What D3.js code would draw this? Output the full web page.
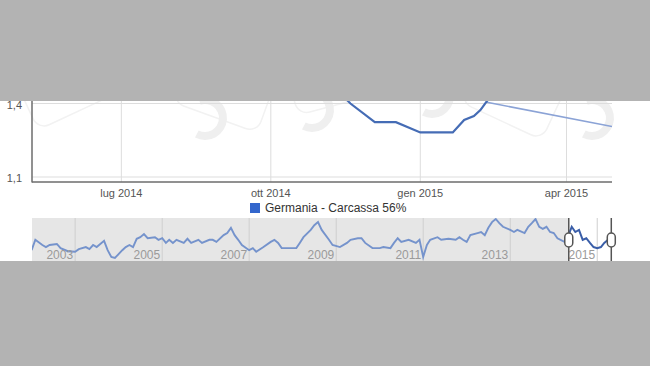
<!DOCTYPE html>
<meta charset="utf-8">

<!-- Load d3.js -->
<script src="https://d3js.org/d3.v7.min.js"></script>

<style>
  body { margin: 0; background: #b3b3b3; }
  text { font-family: Arial, "Liberation Sans", sans-serif; }
</style>

<div id="my_dataviz"></div>

<script>

// main series (visible part of the zoomed chart)
var mainDates  = ["2014-11-10","2014-11-19","2014-12-04","2014-12-17","2015-01-01","2015-01-21","2015-01-28","2015-02-03","2015-02-07","2015-02-11","2015-02-15"]
var mainValues = [1.46, 1.40, 1.324, 1.324, 1.282, 1.282, 1.333, 1.349, 1.373, 1.41, 1.45]

// lighter trend segment
var trendDates  = ["2015-02-11","2015-04-29"]
var trendValues = [1.405, 1.306]

// range navigator series
var navDates = ["2002-01","2002-02","2002-04","2002-05","2002-06","2002-08","2002-09","2002-11",
  "2003-01","2003-02","2003-04","2003-05","2003-06","2003-07","2003-09","2003-10","2003-11","2003-12",
  "2004-02","2004-03","2004-04","2004-05","2004-06","2004-07","2004-08","2004-09","2004-11","2004-12",
  "2005-01","2005-02","2005-03","2005-04","2005-05","2005-07","2005-08","2005-09","2005-11","2005-12",
  "2006-02","2006-03","2006-04","2006-06","2006-07","2006-08","2006-09","2006-10","2006-11",
  "2007-01","2007-02","2007-03","2007-05","2007-07","2007-08","2007-09","2007-10","2007-12",
  "2008-02","2008-03","2008-04","2008-06","2008-07","2008-08","2008-09","2008-11","2008-12",
  "2009-02","2009-04","2009-05","2009-07","2009-08","2009-09","2009-11",
  "2010-01","2010-02","2010-04","2010-05","2010-06","2010-07","2010-09","2010-11","2010-12",
  "2011-01","2011-02","2011-03","2011-05","2011-06","2011-08","2011-10","2011-11","2011-12",
  "2012-01","2012-02","2012-04","2012-05","2012-06","2012-07","2012-08","2012-09","2012-10","2012-11",
  "2013-01","2013-02","2013-03","2013-05","2013-06","2013-07","2013-08","2013-09","2013-10","2013-11","2013-12",
  "2014-01","2014-02","2014-04","2014-05","2014-05-15","2014-06","2014-07","2014-08","2014-09","2014-10",
  "2014-11","2014-12","2015-01","2015-02","2015-03","2015-04","2015-04-25"]
var navValues = [1.25,1.45,1.35,1.31,1.35,1.37,1.29,1.23,
  1.22,1.27,1.31,1.27,1.35,1.31,1.43,1.25,1.12,1.10,
  1.25,1.31,1.35,1.31,1.47,1.50,1.56,1.48,1.50,1.45,
  1.48,1.39,1.45,1.39,1.45,1.39,1.47,1.39,1.45,1.39,
  1.45,1.45,1.41,1.54,1.58,1.68,1.54,1.45,1.35,
  1.25,1.29,1.22,1.31,1.41,1.45,1.39,1.29,1.29,
  1.29,1.39,1.50,1.64,1.73,1.79,1.64,1.45,1.35,
  1.31,1.39,1.45,1.48,1.48,1.39,1.29,
  1.29,1.31,1.29,1.39,1.48,1.41,1.45,1.39,1.45,
  1.12,1.35,1.45,1.50,1.45,1.47,1.45,1.50,1.45,
  1.41,1.54,1.58,1.60,1.54,1.68,1.79,1.85,1.77,1.70,
  1.64,1.60,1.64,1.58,1.70,1.77,1.85,1.70,1.66,1.70,1.60,
  1.58,1.48,1.41,1.39,1.60,1.70,1.60,1.64,1.45,1.48,
  1.39,1.31,1.29,1.31,1.39,1.45,1.47]

var yTicks = [1.1, 1.4]
var navYears = [2003, 2005, 2007, 2009, 2011, 2013, 2015]
var seriesName = "Germania - Carcassa 56%"
var rangeStart = "2014-05-07", rangeEnd = "2015-04-29"

var parse = function(s){ return new Date(s.length == 7 ? s + "-01" : s) }

// italian locale for dates and numbers
var it = d3.timeFormatLocale({
  dateTime: "%A %e %B %Y, %X", date: "%d/%m/%Y", time: "%H:%M:%S",
  periods: ["AM","PM"],
  days: ["domenica","lunedì","martedì","mercoledì","giovedì","venerdì","sabato"],
  shortDays: ["dom","lun","mar","mer","gio","ven","sab"],
  months: ["gennaio","febbraio","marzo","aprile","maggio","giugno","luglio","agosto","settembre","ottobre","novembre","dicembre"],
  shortMonths: ["gen","feb","mar","apr","mag","giu","lug","ago","set","ott","nov","dic"]
})
var num = d3.formatLocale({decimal: ",", thousands: ".", grouping: [3], currency: ["€",""]})

var width = 650, height = 366

var svg = d3.select("#my_dataviz")
.append("svg")
  .attr("width", width)
  .attr("height", height)

// white strip of the screenshot
svg.append("rect")
  .attr("x", 0).attr("y", 60)
  .attr("width", width).attr("height", 220)
  .attr("fill", "#ffffff")

// faint watermark
var wm = svg.append("g")
wm.selectAll("rect")
  .data([[60,70,-25],[230,75,20],[330,60,-15],[520,80,25]])
  .enter().append("rect")
  .attr("x", -45).attr("y", -45).attr("width", 90).attr("height", 90).attr("rx", 12)
  .attr("transform", function(d){ return "translate(" + d[0] + "," + d[1] + ") rotate(" + d[2] + ")" })
  .attr("fill", "none").attr("stroke", "#f2f2f2").attr("stroke-width", 1.5)
var ring = d3.arc().innerRadius(14).outerRadius(22).startAngle(-0.1 * Math.PI).endAngle(1.15 * Math.PI)
wm.selectAll("path")
  .data([[205,118],[312,110],[432,96],[592,118]])
  .enter().append("path")
  .attr("d", ring)
  .attr("transform", function(d){ return "translate(" + d[0] + "," + d[1] + ")" })
  .attr("fill", "#efefef")

// MAIN CHART
var x = d3.scaleTime()
  .domain([parse("2014-05-07"), parse("2015-04-29")])
  .range([32, 612])
var y = d3.scaleLinear()
  .domain([1.1, 1.4])
  .range([177, 103.5])

svg.append("clipPath").attr("id", "plot")
  .append("rect").attr("x", 32).attr("y", 40).attr("width", 580).attr("height", 142)

// vertical grid + month labels
var xTicks = x.ticks(d3.timeMonth.every(3))
svg.append("g")
  .selectAll("line")
  .data(xTicks)
  .enter().append("line")
  .attr("x1", function(d){ return x(d) }).attr("x2", function(d){ return x(d) })
  .attr("y1", 40).attr("y2", 182)
  .attr("stroke", "#dddddd")
svg.append("g")
  .selectAll("text")
  .data(xTicks)
  .enter().append("text")
  .attr("x", function(d){ return x(d) })
  .attr("y", 197)
  .attr("text-anchor", "middle")
  .attr("font-size", 11)
  .attr("fill", "#555")
  .text(it.format("%b %Y"))

// horizontal grid + value labels
svg.append("g")
  .selectAll("line")
  .data(yTicks)
  .enter().append("line")
  .attr("x1", 32).attr("x2", 612)
  .attr("y1", function(d){ return y(d) }).attr("y2", function(d){ return y(d) })
  .attr("stroke", "#dddddd")
svg.append("g")
  .selectAll("text")
  .data(yTicks)
  .enter().append("text")
  .attr("x", 22)
  .attr("y", function(d){ return y(d) + 5 })
  .attr("text-anchor", "end")
  .attr("font-size", 11)
  .attr("fill", "#555")
  .text(num.format(".1f"))

// lines
var line = d3.line()
  .x(function(d){ return x(parse(d[0])) })
  .y(function(d){ return y(d[1]) })

svg.append("path")
  .datum(d3.zip(trendDates, trendValues))
  .attr("clip-path", "url(#plot)")
  .attr("d", line)
  .attr("fill", "none")
  .attr("stroke", "#8ba3d6")
  .attr("stroke-width", 1.6)

svg.append("path")
  .datum(d3.zip(mainDates, mainValues))
  .attr("clip-path", "url(#plot)")
  .attr("d", line)
  .attr("fill", "none")
  .attr("stroke", "#456cb5")
  .attr("stroke-width", 2.2)

// axes frame
svg.append("line")
  .attr("x1", 32).attr("x2", 32).attr("y1", 40).attr("y2", 182.5)
  .attr("stroke", "#6d6d6d").attr("stroke-width", 1.5)
svg.append("line")
  .attr("x1", 32).attr("x2", 612).attr("y1", 182).attr("y2", 182)
  .attr("stroke", "#6d6d6d").attr("stroke-width", 1.5)

// legend
svg.append("rect")
  .attr("x", 250).attr("y", 203).attr("width", 10).attr("height", 10)
  .attr("fill", "#3366cc")
svg.append("text")
  .attr("x", 265).attr("y", 212)
  .attr("font-size", 12)
  .attr("fill", "#333")
  .text(seriesName)

// RANGE NAVIGATOR
var nx = d3.scaleTime()
  .domain([parse("2002-01-04"), parse("2015-05-05")])
  .range([32, 612])
var ny = d3.scaleLinear()
  .domain([1.1, 1.85])
  .range([258, 219])
var navTop = 218, navBottom = 275
var s0 = nx(parse(rangeStart)), s1 = nx(parse(rangeEnd))

svg.append("rect")
  .attr("x", 32).attr("y", navTop)
  .attr("width", s0 - 32).attr("height", navBottom - navTop)
  .attr("fill", "#e6e6e6")

svg.append("g")
  .selectAll("line")
  .data(navYears)
  .enter().append("line")
  .attr("x1", function(d){ return nx(new Date(d, 0, 1)) })
  .attr("x2", function(d){ return nx(new Date(d, 0, 1)) })
  .attr("y1", navTop).attr("y2", navBottom)
  .attr("stroke", "#cfcfcf")

svg.append("clipPath").attr("id", "outside")
  .append("rect").attr("x", 32).attr("y", navTop).attr("width", s0 - 32).attr("height", navBottom - navTop)
svg.append("clipPath").attr("id", "inside")
  .append("rect").attr("x", s0).attr("y", navTop).attr("width", s1 - s0).attr("height", navBottom - navTop)

var navLine = d3.line()
  .x(function(d){ return nx(parse(d[0])) })
  .y(function(d){ return ny(d[1]) })
var navData = d3.zip(navDates, navValues)

svg.append("path")
  .datum(navData)
  .attr("clip-path", "url(#outside)")
  .attr("d", navLine)
  .attr("fill", "none")
  .attr("stroke", "#7593cc")
  .attr("stroke-width", 1.9)
svg.append("path")
  .datum(navData)
  .attr("clip-path", "url(#inside)")
  .attr("d", navLine)
  .attr("fill", "none")
  .attr("stroke", "#3a5ea8")
  .attr("stroke-width", 2)

// year labels sit just left of their grid line
svg.append("g")
  .selectAll("text")
  .data(navYears)
  .enter().append("text")
  .attr("x", function(d){ return nx(new Date(d, 0, 1)) - 2 })
  .attr("y", 259)
  .attr("text-anchor", "end")
  .attr("font-size", 12)
  .attr("fill", "#9a9a9a")
  .text(function(d){ return d })

// selection handles
var handles = svg.append("g")
  .selectAll("g")
  .data([s0, s1])
  .enter().append("g")
handles.append("line")
  .attr("x1", function(d){ return d }).attr("x2", function(d){ return d })
  .attr("y1", navTop).attr("y2", navBottom)
  .attr("stroke", "#555").attr("stroke-width", 1.5)
handles.append("rect")
  .attr("x", function(d){ return d - 4 }).attr("y", 233)
  .attr("width", 8).attr("height", 14).attr("rx", 4)
  .attr("fill", "#fff").attr("stroke", "#555").attr("stroke-width", 1.5)

// grey bands of the screenshot
svg.append("rect")
  .attr("x", 0).attr("y", 0).attr("width", width).attr("height", 101)
  .attr("fill", "#b3b3b3")
svg.append("rect")
  .attr("x", 0).attr("y", 261).attr("width", width).attr("height", height - 261)
  .attr("fill", "#b3b3b3")

</script>
